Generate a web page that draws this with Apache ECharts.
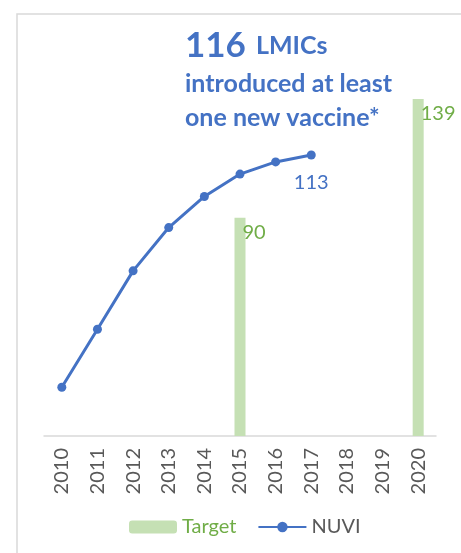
<!DOCTYPE html>
<html>
<head>
<meta charset="utf-8">
<script src="https://cdn.jsdelivr.net/npm/echarts@6/dist/echarts.min.js"></script>
<style>
  html, body { margin: 0; padding: 0; background: #fff; }
  #chart { width: 461px; height: 553px; }
</style>
</head>
<body>
<div id="chart"></div>
<script>
// Years on the category axis
const years = ['2010', '2011', '2012', '2013', '2014', '2015', '2016', '2017', '2018', '2019', '2020'];
// Target number of countries (only set for 2015 and 2020)
const target = [null, null, null, null, null, 90, null, null, null, null, 139];
// Cumulative countries that introduced at least one new vaccine (NUVI)
const nuvi = [19.6, 42.9, 66.4, 83.8, 96.3, 105.3, 110.2, 113];

const FONT = 'Lato, "Noto Sans", sans-serif';
const BLUE = '#4472C4';
const GREEN_TEXT = '#70AD47';
const GREEN_BAR = '#C5E0B4';
const GREY = '#595959';

const chart = echarts.init(document.getElementById('chart'), null, { renderer: 'canvas' });

chart.setOption({
  animation: false,
  textStyle: { fontFamily: FONT },
  graphic: [{
    type: 'rect',
    shape: { x: 17, y: 14, width: 700, height: 800 },
    style: { fill: 'none', stroke: '#D9D9D9', lineWidth: 1.5 },
    z: -1
  }],
  title: {
    left: 185,
    top: 25,
    padding: 0,
    text: '{big|116}{mid|LMICs}\n{txt|introduced at least}\n{txt|one new vaccine*}',
    textStyle: {
      rich: {
        big: { fontFamily: FONT, fontSize: 35, fontWeight: 'bold', color: BLUE, lineHeight: 42 },
        mid: { fontFamily: FONT, fontSize: 25, fontWeight: 'bold', color: BLUE, lineHeight: 42, padding: [0, 0, 0, 10] },
        txt: { fontFamily: FONT, fontSize: 25, fontWeight: 'bold', color: BLUE, lineHeight: 34 }
      }
    }
  },
  legend: {
    left: 129,
    top: 517,
    padding: 0,
    itemWidth: 48,
    itemHeight: 13,
    itemGap: 21,
    textStyle: { fontFamily: FONT, fontSize: 20, color: GREY },
    data: [
      { name: 'Target', textStyle: { color: GREEN_TEXT } },
      { name: 'NUVI', textStyle: { color: GREY } }
    ]
  },
  grid: { left: 44, right: 25, top: 48, bottom: 117, containLabel: false },
  xAxis: {
    type: 'category',
    data: years,
    boundaryGap: true,
    axisLine: { show: true, lineStyle: { color: '#D9D9D9', width: 1.5 } },
    axisTick: { show: false },
    axisLabel: { rotate: 90, color: GREY, fontSize: 20, fontFamily: FONT, margin: 12, interval: 0 },
    splitLine: { show: false }
  },
  yAxis: [
    { type: 'value', min: 0, max: 160, show: false, splitLine: { show: false } },
    { type: 'value', min: 0, max: 156, show: false, splitLine: { show: false } }
  ],
  series: [
    {
      name: 'Target',
      type: 'bar',
      data: target,
      barWidth: 11,
      itemStyle: { color: GREEN_BAR },
      label: {
        show: true,
        position: [8, 5],
        align: 'left',
        verticalAlign: 'top',
        color: GREEN_TEXT,
        fontSize: 20,
        fontFamily: FONT
      }
    },
    {
      name: 'NUVI',
      type: 'line',
      yAxisIndex: 1,
      data: nuvi,
      symbol: 'circle',
      symbolSize: 9,
      lineStyle: { color: BLUE, width: 3 },
      itemStyle: { color: BLUE },
      label: {
        show: true,
        position: 'bottom',
        distance: 13,
        color: BLUE,
        fontSize: 20,
        fontFamily: FONT,
        formatter: p => (p.dataIndex === nuvi.length - 1 ? String(p.value) : '')
      }
    }
  ]
});
</script>
</body>
</html>
